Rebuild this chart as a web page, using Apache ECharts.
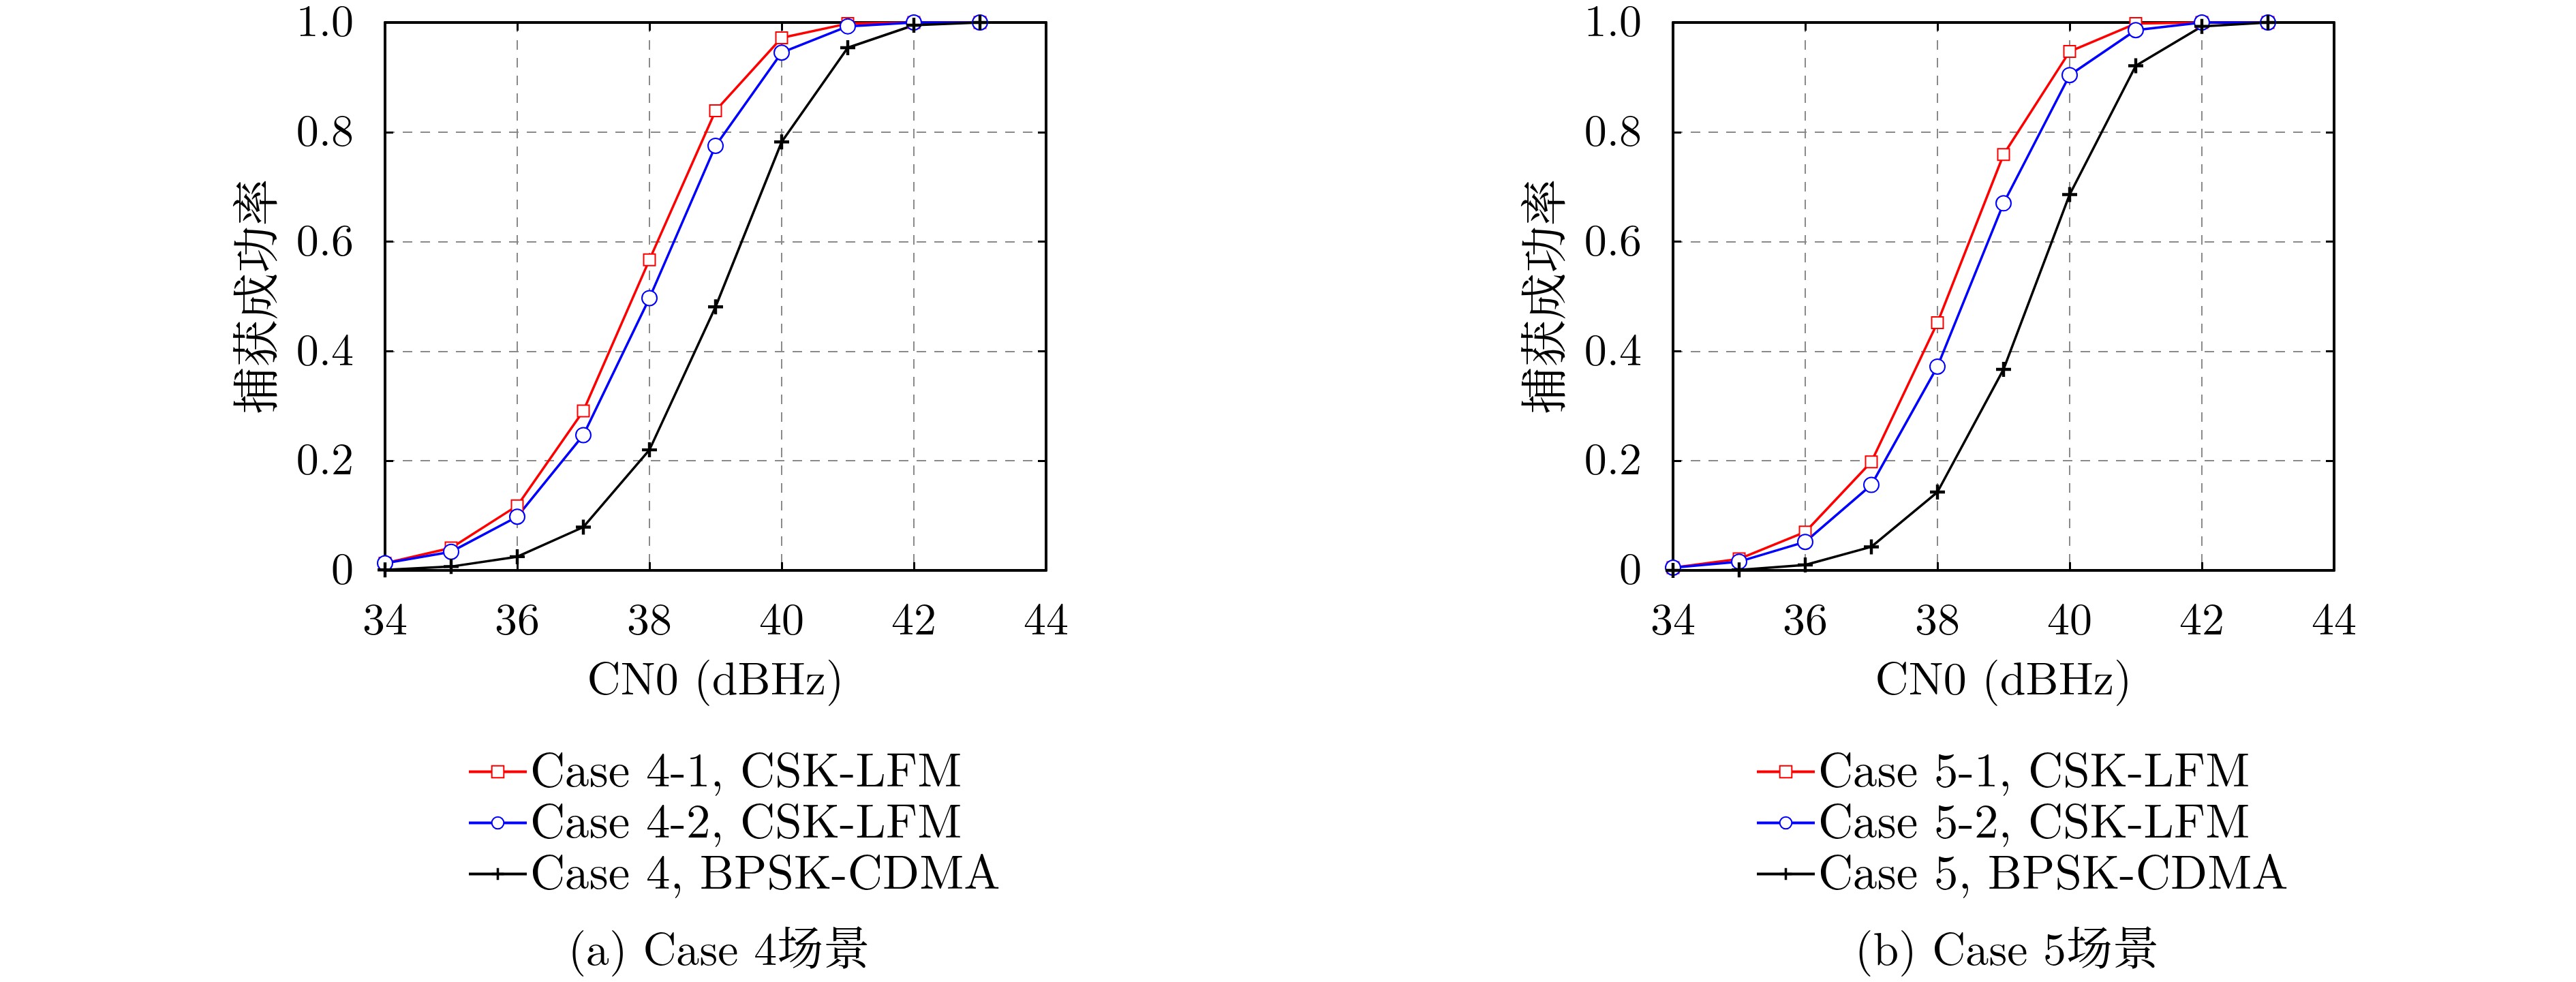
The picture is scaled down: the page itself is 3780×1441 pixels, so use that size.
<!DOCTYPE html>
<html>
<head>
<meta charset="utf-8">
<title>捕获成功率</title>
<script src="https://cdn.jsdelivr.net/npm/echarts@6/dist/echarts.min.js"></script>
<style>
  html, body { margin: 0; padding: 0; background: #fff; }
  #chart { width: 3780px; height: 1441px; }
</style>
</head>
<body>
<div id="chart"></div>
<script>
// CN0 (dBHz) 采样点
const cn0 = [34, 35, 36, 37, 38, 39, 40, 41, 42, 43];

// (a) Case 4
const case41 = [0.013, 0.041, 0.118, 0.291, 0.567, 0.839, 0.972, 0.998, 1.0, 1.0];
const case42 = [0.013, 0.034, 0.098, 0.247, 0.497, 0.775, 0.945, 0.993, 1.0, 1.0];
const case4 = [0.001, 0.007, 0.025, 0.079, 0.220, 0.481, 0.782, 0.954, 0.995, 1.0];

// (b) Case 5
const case51 = [0.005, 0.021, 0.070, 0.198, 0.452, 0.759, 0.947, 0.998, 1.0, 1.0];
const case52 = [0.005, 0.016, 0.052, 0.156, 0.372, 0.670, 0.904, 0.986, 1.0, 1.0];
const case5 = [0.000, 0.001, 0.010, 0.043, 0.143, 0.367, 0.686, 0.921, 0.993, 1.0];

const namesA = ['Case 4-1, CSK-LFM', 'Case 4-2, CSK-LFM', 'Case 4, BPSK-CDMA'];
const namesB = ['Case 5-1, CSK-LFM', 'Case 5-2, CSK-LFM', 'Case 5, BPSK-CDMA'];
const captions = ['(a) Case 4场景', '(b) Case 5场景'];
const yTickLabels = ['0', '0.2', '0.4', '0.6', '0.8', '1.0'];

const FONT = "'Latin Modern Roman', 'CMU Serif', 'Liberation Serif', 'Noto Serif CJK SC', 'Noto Sans CJK SC', serif";
const CJK = "'Noto Serif CJK SC', 'Noto Sans CJK SC', serif";
const PLUS = 'path://M4,0h2v4h4v2h-4v4h-2v-4h-4v-2h4z';

const gridLeft = [565, 2455];
const gridW = 970;
const gridTop = 30;
const gridH = 807;

const pairs = (ys) => cn0.map((x, i) => [x, ys[i]]);

const makeSeries = (idx, names, a, b, c) => [
    {
        name: names[0], type: 'line', xAxisIndex: idx * 2, yAxisIndex: idx * 2, data: pairs(a),
        symbol: 'emptyRect', symbolSize: 17, clip: false, z: 5,
        lineStyle: { color: '#ff0000', width: 3.5 },
        itemStyle: { color: '#ff0000', borderWidth: 3 },
    },
    {
        name: names[1], type: 'line', xAxisIndex: idx * 2, yAxisIndex: idx * 2, data: pairs(b),
        symbol: 'emptyCircle', symbolSize: 22, clip: false, z: 5,
        lineStyle: { color: '#0000ff', width: 3.5 },
        itemStyle: { color: '#0000ff', borderWidth: 3 },
    },
    {
        name: names[2], type: 'line', xAxisIndex: idx * 2, yAxisIndex: idx * 2, data: pairs(c),
        symbol: PLUS, symbolSize: 22, clip: false, z: 5,
        lineStyle: { color: '#000000', width: 3.5 },
        itemStyle: { color: '#000000' },
    },
];

const gridDash = { show: true, lineStyle: { color: '#8a8a8a', width: 2, type: [14, 12] } };
const frameLine = { show: true, onZero: false, lineStyle: { color: '#000', width: 4 } };
const innerTick = { show: true, inside: true, length: 12, lineStyle: { color: '#000', width: 3 } };

const makeXAxes = (idx) => [
    {
        type: 'value', gridIndex: idx, min: 34, max: 44, interval: 2,
        name: 'CN0 (dBHz)', nameLocation: 'middle', nameGap: 127,
        nameTextStyle: { fontFamily: FONT, fontSize: 68, color: '#000' },
        axisLine: frameLine, axisTick: innerTick,
        axisLabel: { margin: 41, fontFamily: FONT, fontSize: 66, color: '#000' },
        splitLine: gridDash,
    },
    {
        // 上边框
        type: 'value', gridIndex: idx, position: 'top', min: 34, max: 44, interval: 2, z: 4,
        axisLine: frameLine, axisTick: innerTick,
        axisLabel: { show: false }, splitLine: { show: false },
    },
];

const makeYAxes = (idx) => [
    {
        type: 'value', gridIndex: idx, min: 0, max: 1, interval: 0.2,
        name: '捕获成功率', nameLocation: 'middle', nameGap: 156, nameRotate: 90,
        nameTextStyle: { fontFamily: CJK, fontSize: 69, color: '#000' },
        axisLine: frameLine, axisTick: innerTick,
        axisLabel: {
            margin: 46, fontFamily: FONT, fontSize: 66, color: '#000',
            formatter: (v) => yTickLabels[Math.round(v / 0.2)],
        },
        splitLine: gridDash,
    },
    {
        // 右边框
        type: 'value', gridIndex: idx, position: 'right', min: 0, max: 1, interval: 0.2, z: 4,
        axisLine: frameLine, axisTick: innerTick,
        axisLabel: { show: false }, splitLine: { show: false },
    },
];

const makeLegend = (idx, names) => ({
    data: names, orient: 'vertical',
    left: gridLeft[idx] + 116, top: 1090,
    itemWidth: 85, itemHeight: 22, itemGap: 0,
    lineStyle: { width: 4 },
    textStyle: { fontFamily: FONT, fontSize: 71, color: '#000', lineHeight: 75 },
});

const makeCaption = (idx) => ({
    text: captions[idx],
    left: gridLeft[idx] + gridW / 2, top: 1356, textAlign: 'center',
    textStyle: { fontFamily: FONT, fontSize: 68, fontWeight: 'normal', color: '#000' },
});

const chart = echarts.init(document.getElementById('chart'));
chart.setOption({
    backgroundColor: '#ffffff',
    animation: false,
    title: [makeCaption(0), makeCaption(1)],
    legend: [makeLegend(0, namesA), makeLegend(1, namesB)],
    grid: gridLeft.map((left) => ({
        left, top: gridTop, width: gridW, height: gridH,
    })),
    xAxis: [...makeXAxes(0), ...makeXAxes(1)],
    yAxis: [...makeYAxes(0), ...makeYAxes(1)],
    series: [
        ...makeSeries(0, namesA, case41, case42, case4),
        ...makeSeries(1, namesB, case51, case52, case5),
    ],
});
</script>
</body>
</html>
